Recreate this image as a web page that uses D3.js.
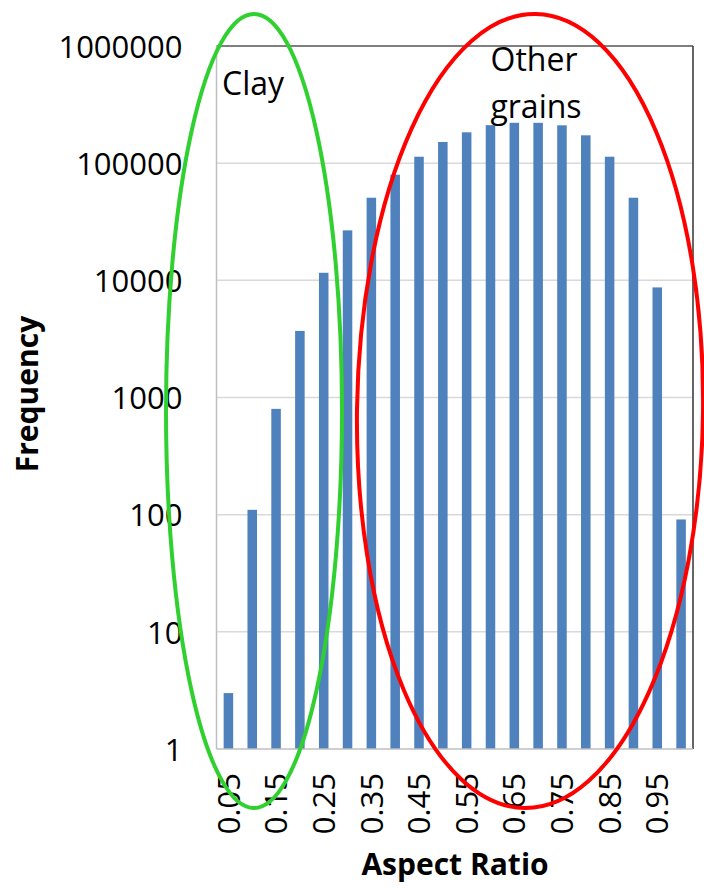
<!DOCTYPE html>
<html>
<head>
<meta charset="utf-8">
<script src="https://cdn.jsdelivr.net/npm/d3@7"></script>
<style>
  html, body { margin: 0; padding: 0; background: #fff; }
  svg { display: block; }
  text { font-family: "Open Sans", "Noto Sans", sans-serif; fill: #000; }
</style>
</head>
<body>
<div id="chart"></div>
<script>
// ---- data ----
const categories = ["0.05","0.1","0.15","0.2","0.25","0.3","0.35","0.4","0.45","0.5",
                    "0.55","0.6","0.65","0.7","0.75","0.8","0.85","0.9","0.95","1"];
const frequency = [3, 110, 800, 3700, 11600, 26700, 50700, 79700, 113500, 151700,
                   183400, 211000, 221000, 221000, 210400, 172900, 113500, 50700, 8700, 91];
const yTickValues = [1, 10, 100, 1000, 10000, 100000, 1000000];
const xTickLabels = ["0.05","0.15","0.25","0.35","0.45","0.55","0.65","0.75","0.85","0.95"];
const yTitle = "Frequency";
const xTitle = "Aspect Ratio";
const annotationClay = ["Clay"];
const annotationOther = ["Other", "grains"];

// ---- layout ----
const W = 704, H = 888;
const pL = 216.5, pR = 693, pT = 46, pB = 749;

const svg = d3.select("#chart").append("svg")
  .attr("width", W).attr("height", H);
svg.append("rect").attr("width", W).attr("height", H).attr("fill", "#fff");

const x = d3.scaleBand().domain(categories).range([pL, pR])
  .paddingInner(0.6).paddingOuter(0.3);
const y = d3.scaleLog().domain([1, 1000000]).range([pB, pT]);

// gridlines
svg.append("g").selectAll("line").data(yTickValues.filter(v => v > 1 && v < 1000000))
  .join("line")
  .attr("x1", pL).attr("x2", pR)
  .attr("y1", d => y(d)).attr("y2", d => y(d))
  .attr("stroke", "#d9d9d9").attr("stroke-width", 1.5);

// plot border top/right
svg.append("line").attr("x1", pL).attr("x2", pR).attr("y1", pT).attr("y2", pT)
  .attr("stroke", "#000").attr("stroke-width", 1.2);
svg.append("line").attr("x1", pR).attr("x2", pR).attr("y1", pT).attr("y2", pB)
  .attr("stroke", "#333").attr("stroke-width", 1.5);

// bars
svg.append("g").selectAll("rect").data(categories)
  .join("rect")
  .attr("x", d => x(d))
  .attr("width", x.bandwidth())
  .attr("y", (d, i) => y(frequency[i]))
  .attr("height", (d, i) => pB - y(frequency[i]))
  .attr("fill", "#4f81bd");

// axes lines
svg.append("line").attr("x1", pL).attr("x2", pL).attr("y1", pT).attr("y2", pB)
  .attr("stroke", "#bfbfbf").attr("stroke-width", 1.5);
svg.append("line").attr("x1", pL).attr("x2", pR).attr("y1", pB).attr("y2", pB)
  .attr("stroke", "#bfbfbf").attr("stroke-width", 1.5);

// y axis via d3.axisLeft
const yAxis = d3.axisLeft(y).tickValues(yTickValues).tickFormat(d3.format("d"))
  .tickSize(0).tickPadding(34);
const gy = svg.append("g").attr("transform", `translate(${pL},0)`).call(yAxis);
gy.select(".domain").remove();
gy.selectAll("text").attr("font-size", 31).attr("dy", "0.36em")
  .style("font-family", "'Open Sans', sans-serif").attr("fill", "#000");

// x axis via d3.axisBottom
const labelCats = categories.filter((c, i) => i % 2 === 0);
const xAxis = d3.axisBottom(x).tickValues(labelCats)
  .tickFormat((d, i) => xTickLabels[i]).tickSize(0);
const gx = svg.append("g").attr("transform", `translate(0,${pB})`).call(xAxis);
gx.select(".domain").remove();
gx.selectAll("text")
  .attr("font-size", 31)
  .style("font-family", "'Open Sans', sans-serif").attr("fill", "#000")
  .attr("text-anchor", "end")
  .attr("x", 0).attr("y", 0)
  .attr("dy", "0.36em")
  .attr("transform", "translate(0,24) rotate(-90)");

// axis titles
svg.append("text").attr("x", 455).attr("y", 875).attr("text-anchor", "middle")
  .attr("font-size", 30).attr("font-weight", "bold").text(xTitle);
svg.append("text").attr("transform", "translate(38,394) rotate(-90)")
  .attr("text-anchor", "middle").attr("font-size", 30).attr("font-weight", "bold").text(yTitle);

// annotation texts
svg.append("text").attr("x", 222).attr("y", 95).attr("font-size", 32).text(annotationClay[0]);
svg.append("text").attr("x", 534).attr("y", 71).attr("text-anchor", "middle")
  .attr("font-size", 32).text(annotationOther[0]);
svg.append("text").attr("x", 536).attr("y", 118).attr("text-anchor", "middle")
  .attr("font-size", 32).text(annotationOther[1]);

// ellipses around groups
svg.append("ellipse").attr("cx", 254).attr("cy", 411).attr("rx", 88).attr("ry", 397)
  .attr("fill", "none").attr("stroke", "#2fd02f").attr("stroke-width", 4);
svg.append("ellipse").attr("cx", 0).attr("cy", 0).attr("rx", 173).attr("ry", 397)
  .attr("transform", "translate(530,411) rotate(0.8)")
  .attr("fill", "none").attr("stroke", "#ff0000").attr("stroke-width", 4);
</script>
</body>
</html>
